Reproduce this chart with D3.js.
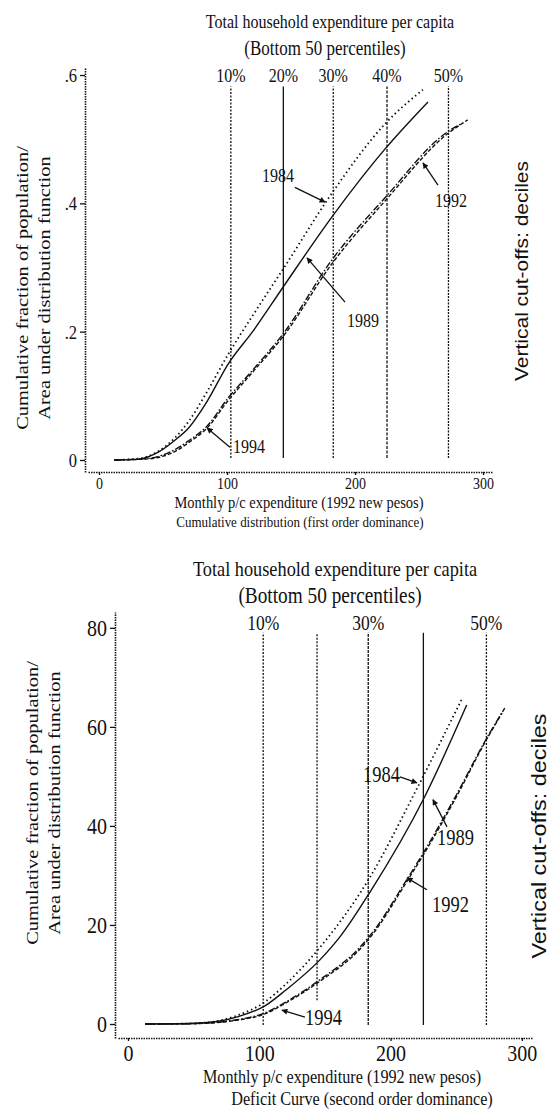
<!DOCTYPE html>
<html>
<head>
<meta charset="utf-8">
<script src="https://cdn.jsdelivr.net/npm/d3@7/dist/d3.min.js"></script>
<style>
  body { margin: 0; background: #fff; }
  svg text { font-family: "Liberation Serif", "Times New Roman", serif; fill: #111; }
</style>
</head>
<body>
<div id="chart"></div>
<script>
// ---- values ----
var years = ["1984", "1989", "1992", "1994"];
var xTicks = [0, 100, 200, 300];
var cdfTicks = [0, 0.2, 0.4, 0.6];
var deficitTicks = [0, 20, 40, 60, 80];
var decileCuts = [103, 144, 183, 225, 273];
var decileNamesTop = ["10%", "20%", "30%", "40%", "50%"];
var decileNamesBottom = ["10%", "", "30%", "", "50%"];

// cumulative distribution (fraction of population)
var cdf1984 = [[12,0],[30,0.002],[45,0.012],[60,0.036],[70,0.06],[84,0.105],[101,0.165],[120,0.225],[144,0.298],[182,0.416],[224,0.525],[253,0.577]];
var cdf1989 = [[12,0],[30,0.001],[47,0.013],[60,0.032],[70,0.05],[84,0.09],[101,0.15],[120,0.2],[144,0.27],[182,0.379],[224,0.486],[257,0.558]];
var cdf1992 = [[12,0],[40,0.003],[50,0.008],[61,0.018],[70,0.03],[84,0.052],[101,0.097],[120,0.14],[144,0.197],[182,0.312],[224,0.41],[272,0.511],[284,0.525]];
var cdf1994 = [[12,0],[40,0.002],[50,0.006],[61,0.015],[70,0.027],[84,0.049],[101,0.093],[120,0.137],[144,0.193],[182,0.306],[224,0.405],[272,0.508],[288,0.53]];

// deficit curve (area under distribution function)
var def1984 = [[13,0],[40,0.05],[60,0.3],[70,0.7],[84,1.8],[104,4.4],[120,8.0],[146,15.4],[184,29.5],[220,47.5],[255,66.0]];
var def1989 = [[13,0],[40,0.05],[60,0.3],[70,0.6],[84,1.5],[104,3.6],[120,6.8],[146,12.9],[162,17.8],[184,26.5],[226,45.9],[258,64.4]];
var def1992 = [[13,0],[40,0.03],[60,0.2],[70,0.4],[84,0.9],[104,2.2],[120,4.4],[146,8.9],[177,15.6],[186,18.4],[212,29.0],[226,35.0],[250,46.2],[273,57.6],[287,63.8]];
var def1994 = [[13,0],[40,0.02],[60,0.15],[70,0.35],[84,0.8],[104,2.0],[120,4.2],[146,8.6],[177,15.2],[186,18.0],[212,28.6],[226,34.6],[250,45.8],[273,57.4],[285,62.8]];

// ---- styles ----
var STRETCH = 1.2; // the scan is taller than it is wide, so the type is too
var seriesDash = ["1.5,3", null, "7,2,1.5,2", "4,2"];
var cutDashTop = ["2,1.5", null, "2,1.5", "3,1.5", "2,1.2"];
var cutDashBottom = ["2,1.5", "2,1.5", "3,1", null, "2,1.5"];

// ---- layout of each panel ----
var panels = [
  {
    xDomain: [-8.6, 307.8], xRange: [88, 493],
    yDomain: [-0.0187, 0.6125], yRange: [472, 67],
    yAxisX: 85,
    yTicks: cdfTicks,
    yFormat: function(d) { return d === 0 ? "0" : d3.format(".1f")(d).slice(1); },
    yTickFont: 16.5, xTickFont: 14, xTickPad: 2,
    series: [cdf1984, cdf1989, cdf1992, cdf1994],
    cutLo: 0.003, cutHi: 0.582, cutLo2: 0.003,
    cutDash: cutDashTop,
    decileNames: decileNamesTop, decileY: 0.589, decileFont: 16,
    title: [330, 28, 16, 325, 55, 17],
    xLabel1: ["Monthly p/c expenditure (1992 new pesos)", 299, 508, 14.5],
    xLabel2: ["Cumulative distribution (first order dominance)", 300, 527, 13],
    yLab: [28, 50, 288, 17],
    rightLab: [528, 271, 17.5],
    notes: [
      {t: "1984", tx: 127.3, ty: 0.433, ax: 153, ay: 0.425, bx: 176.6, by: 0.402},
      {t: "1989", tx: 193.8, ty: 0.207, ax: 192.2, ay: 0.246, bx: 162.5, by: 0.315},
      {t: "1992", tx: 262.5, ty: 0.394, ax: 264.8, ay: 0.4285, bx: 253.1, by: 0.463},
      {t: "1994", tx: 104.7, ty: 0.011, ax: 102.3, ay: 0.020, bx: 84.4, by: 0.05}
    ],
    noteFont: 16
  },
  {
    xDomain: [-7.6, 308.5], xRange: [118, 533],
    yDomain: [-2.83, 83.2], yRange: [1038, 612],
    yAxisX: 115,
    yTicks: deficitTicks,
    yFormat: d3.format("d"),
    yTickFont: 20, xTickFont: 20, xTickPad: 3,
    series: [def1984, def1989, def1992, def1994],
    cutLo: -0.2, cutHi: 79.0, cutLo2: 4.8,
    cutDash: cutDashBottom,
    decileNames: decileNamesBottom, decileY: 79.6, decileFont: 17.5,
    title: [335, 576, 18.3, 330, 603, 19.3],
    xLabel1: ["Monthly p/c expenditure (1992 new pesos)", 342, 1083, 16.2],
    xLabel2: ["Deficit Curve (second order dominance)", 362, 1105, 16.2],
    yLab: [38, 60, 803, 17],
    rightLab: [546, 836, 19.5],
    notes: [
      {t: "1984", tx: 179, ty: 48.9, ax: 207.2, ay: 49.9, bx: 220.1, by: 48.7},
      {t: "1989", tx: 235.3, ty: 36.2, ax: 243, ay: 39.8, bx: 232.3, by: 45.3},
      {t: "1992", tx: 231.5, ty: 22.6, ax: 227.7, ay: 27.1, bx: 212.5, by: 29.5},
      {t: "1994", tx: 134.8, ty: -0.2, ax: 134.8, ay: 1.4, bx: 117.3, by: 2.8}
    ],
    noteFont: 18.5
  }
];

var svg = d3.select("#chart").append("svg")
  .attr("width", 551)
  .attr("height", 1112);

// little arrow head for the year labels
svg.append("defs").append("marker")
  .attr("id", "arrow")
  .attr("viewBox", "0 0 10 10")
  .attr("refX", 9).attr("refY", 5)
  .attr("markerWidth", 7).attr("markerHeight", 6)
  .attr("markerUnits", "userSpaceOnUse")
  .attr("orient", "auto")
  .append("path")
  .attr("d", "M0,0 L10,5 L0,10 z")
  .attr("fill", "#111");

// text squeezed sideways (or stretched along its length when rotated)
function addText(parent, str, x, y, size, opts) {
  opts = opts || {};
  var tf = "translate(" + x + "," + y + ")";
  tf += opts.rotate ? " rotate(-90) scale(" + STRETCH + ",1)" : " scale(" + (1 / STRETCH) + ",1)";
  var t = parent.append("g").attr("transform", tf)
    .append("text")
    .attr("text-anchor", opts.anchor || "middle")
    .style("font-size", (opts.rotate ? size : size * STRETCH) + "px")
    .text(str);
  if (opts.family) t.style("font-family", opts.family);
  return t;
}

panels.forEach(function(p) {
  var x = d3.scaleLinear().domain(p.xDomain).range(p.xRange);
  var y = d3.scaleLinear().domain(p.yDomain).range(p.yRange);
  var g = svg.append("g");

  // titles
  addText(g, "Total household expenditure per capita", p.title[0], p.title[1], p.title[2]);
  addText(g, "(Bottom 50 percentiles)", p.title[3], p.title[4], p.title[5]);

  // axes
  var yAxis = g.append("g")
    .attr("transform", "translate(" + p.yAxisX + ",0)")
    .call(d3.axisLeft(y).tickValues(p.yTicks).tickFormat(p.yFormat)
      .tickSize(5).tickSizeOuter(0).tickPadding(3));
  var xAxis = g.append("g")
    .attr("transform", "translate(0," + p.yRange[0] + ")")
    .call(d3.axisBottom(x).tickValues(xTicks).tickFormat(d3.format("d"))
      .tickSize(3).tickSizeOuter(0).tickPadding(p.xTickPad));

  [yAxis, xAxis].forEach(function(a) {
    a.select(".domain").attr("stroke", "#111").attr("stroke-width", 1.6)
      .attr("stroke-dasharray", "1.5,1");
    a.selectAll(".tick line").attr("stroke", "#111").attr("stroke-width", 1.3);
    a.selectAll("text").attr("fill", "#111")
      .style("font-family", "'Liberation Serif', serif");
  });
  yAxis.selectAll("text")
    .style("font-size", p.yTickFont * STRETCH + "px")
    .attr("x", -8 * STRETCH)
    .attr("transform", "scale(" + (1 / STRETCH) + ",1)");
  xAxis.selectAll("text")
    .style("font-size", p.xTickFont * STRETCH + "px")
    .attr("transform", "scale(" + (1 / STRETCH) + ",1)");

  // vertical decile cut-offs
  g.selectAll(".cut").data(decileCuts).enter().append("line")
    .attr("x1", d => x(d)).attr("x2", d => x(d))
    .attr("y1", (d, i) => y(i === 1 ? p.cutLo2 : p.cutLo))
    .attr("y2", y(p.cutHi))
    .attr("stroke", "#111").attr("stroke-width", 1.3)
    .attr("stroke-dasharray", (d, i) => p.cutDash[i]);

  decileCuts.forEach(function(c, i) {
    addText(g, p.decileNames[i], x(c), y(p.decileY), p.decileFont);
  });

  // curves
  var line = d3.line()
    .x(d => x(d[0])).y(d => y(d[1]))
    .curve(d3.curveMonotoneX);

  g.selectAll(".curve").data(p.series).enter().append("path")
    .attr("d", line)
    .attr("fill", "none").attr("stroke", "#111")
    .attr("stroke-width", (d, i) => i === 0 ? 1.8 : 1.4)
    .attr("stroke-dasharray", (d, i) => seriesDash[i]);

  // year labels with arrows
  p.notes.forEach(function(n) {
    addText(g, n.t, x(n.tx), y(n.ty), p.noteFont, {anchor: "start"});
  });
  g.selectAll(".arrow").data(p.notes).enter().append("line")
    .attr("x1", d => x(d.ax)).attr("y1", d => y(d.ay))
    .attr("x2", d => x(d.bx)).attr("y2", d => y(d.by))
    .attr("stroke", "#111").attr("stroke-width", 1.3)
    .attr("marker-end", "url(#arrow)");

  // axis captions
  addText(g, p.xLabel1[0], p.xLabel1[1], p.xLabel1[2], p.xLabel1[3]);
  addText(g, p.xLabel2[0], p.xLabel2[1], p.xLabel2[2], p.xLabel2[3]);

  ["Cumulative fraction of population/", "Area under distribution function"].forEach(function(s, i) {
    addText(g, s, p.yLab[i], p.yLab[2], p.yLab[3], {rotate: true});
  });

  addText(g, "Vertical cut-offs: deciles", p.rightLab[0], p.rightLab[1], p.rightLab[2],
    {rotate: true, family: "'Liberation Sans', Arial, sans-serif"});
});
</script>
</body>
</html>
